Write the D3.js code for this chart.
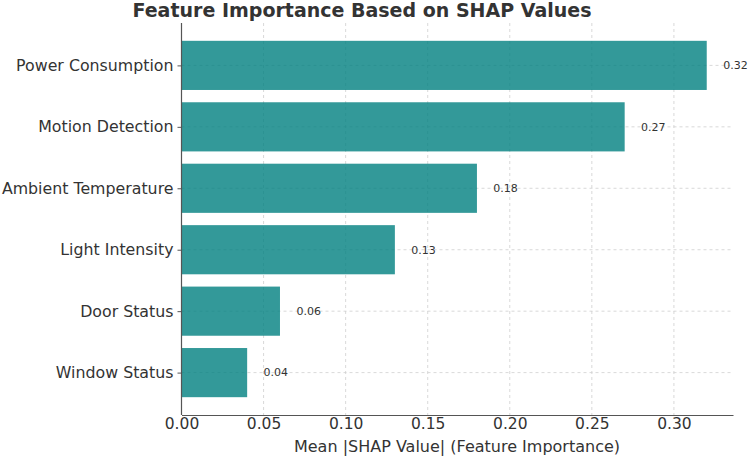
<!DOCTYPE html>
<html>
<head>
<meta charset="utf-8">
<script src="https://cdn.jsdelivr.net/npm/d3@7"></script>
<style>
  body { margin: 0; background: #fff; }
  text { font-family: "DejaVu Sans", sans-serif; fill: #333; }
</style>
</head>
<body>
<div id="chart"></div>
<script>
(function(){

// feature names, bottom to top as matplotlib draws them
const features = ["Window Status", "Door Status", "Light Intensity", "Ambient Temperature", "Motion Detection", "Power Consumption"];
const importance = [0.04, 0.06, 0.13, 0.18, 0.27, 0.32];
const xTicks = [0.00, 0.05, 0.10, 0.15, 0.20, 0.25, 0.30];

const width = 750;
const height = 459;
const left = 181.5, right = 733, top = 23, bottom = 415;

const svg = d3.select("#chart")
  .append("svg")
  .attr("width", width)
  .attr("height", height);

const x = d3.scaleLinear()
  .domain([0, 0.336])
  .range([left, right]);

// index based y so the bars keep matplotlib's margins
const y = d3.scaleLinear()
  .domain([-0.69, features.length - 1 + 0.69])
  .range([bottom, top]);

const barH = (y(0) - y(0.8));

// grid
const grid = svg.append("g")
  .attr("stroke", "#cfcfcf")
  .attr("stroke-width", 0.8)
  .attr("stroke-dasharray", "3,3");

grid.selectAll("line.v")
  .data(xTicks)
  .enter()
  .append("line")
  .attr("x1", d => x(d))
  .attr("x2", d => x(d))
  .attr("y1", top)
  .attr("y2", bottom);

grid.selectAll("line.h")
  .data(features)
  .enter()
  .append("line")
  .attr("x1", left)
  .attr("x2", right)
  .attr("y1", (d, i) => y(i))
  .attr("y2", (d, i) => y(i));

// bars
svg.append("g")
  .selectAll("rect")
  .data(importance)
  .enter()
  .append("rect")
  .attr("x", x(0))
  .attr("y", (d, i) => y(i) - barH / 2)
  .attr("width", d => x(d) - x(0))
  .attr("height", barH)
  .attr("fill", "teal")
  .attr("fill-opacity", 0.8);

// value labels
svg.append("g")
  .selectAll("text")
  .data(importance)
  .enter()
  .append("text")
  .attr("x", d => x(d + 0.01))
  .attr("y", (d, i) => y(i))
  .attr("dy", "0.35em")
  .attr("font-size", 11)
  .text(d => d.toFixed(2));

// axes
const xAxis = svg.append("g")
  .attr("transform", `translate(0,${bottom})`)
  .call(d3.axisBottom(x).tickValues(xTicks).tickFormat(d3.format(".2f")).tickSize(0).tickPadding(3));
xAxis.select(".domain").attr("stroke", "#555").attr("stroke-width", 1.2);
xAxis.selectAll("text").attr("font-size", 15.5).attr("fill", "#333");

const yAxis = svg.append("g")
  .attr("transform", `translate(${left},0)`)
  .call(d3.axisLeft(y).tickValues(d3.range(features.length)).tickFormat(i => features[i]).tickSize(4).tickPadding(4));
yAxis.select(".domain").attr("stroke", "#555").attr("stroke-width", 1.2).attr("d", `M0,${top}V${bottom}`);
yAxis.selectAll(".tick line").attr("stroke", "#555");
yAxis.selectAll("text").attr("font-size", 15.8).attr("fill", "#333");

// title and label
svg.append("text")
  .attr("x", 362)
  .attr("y", 17)
  .attr("text-anchor", "middle")
  .attr("font-size", 19)
  .attr("font-weight", "bold")
  .text("Feature Importance Based on SHAP Values");

svg.append("text")
  .attr("x", 457)
  .attr("y", 452)
  .attr("text-anchor", "middle")
  .attr("font-size", 16)
  .text("Mean |SHAP Value| (Feature Importance)");

})();
</script>
</body>
</html>
